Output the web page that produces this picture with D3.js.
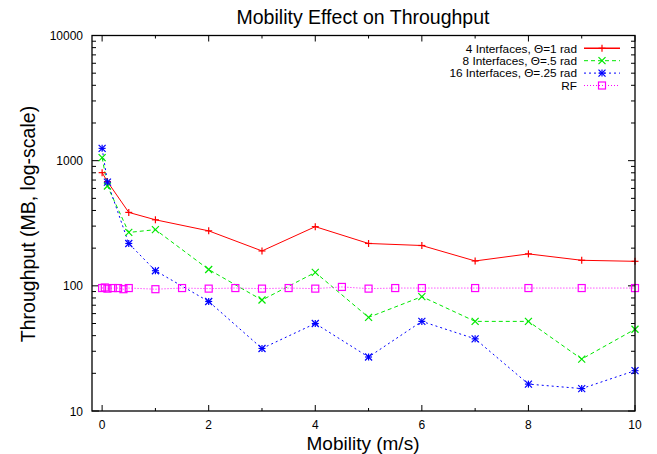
<!DOCTYPE html>
<html><head><meta charset="utf-8">
<script src="https://cdn.jsdelivr.net/npm/d3@7"></script>
<style>body{margin:0;background:#fff;}svg{display:block;font-family:"Liberation Sans",Arial,sans-serif;}</style>
</head><body><svg id="c" width="657" height="454"></svg>
<script>
const title = "Mobility Effect on Throughput";
const xLabel = "Mobility (m/s)";
const yLabel = "Throughput (MB, log-scale)";
const xTicks = [0, 2, 4, 6, 8, 10];
const yTicks = [10, 100, 1000, 10000];

const xs4 = [0, 0.1, 0.5, 1, 2, 3, 4, 5, 6, 7, 8, 9, 10];
const ys4 = [802, 680, 386, 337, 275, 190, 297, 218, 210, 158, 180, 160, 157];
const xs8 = [0, 0.1, 0.5, 1, 2, 3, 4, 5, 6, 7, 8, 9, 10];
const ys8 = [1057, 627, 267, 281, 135, 77, 128, 56, 82, 52, 52, 26, 45];
const xs16 = [0, 0.1, 0.5, 1, 2, 3, 4, 5, 6, 7, 8, 9, 10];
const ys16 = [1254, 674, 218, 132, 75, 31.6, 50, 27, 52, 37.7, 16.4, 15.1, 21];
const xsRF = [0, 0.05, 0.1, 0.2, 0.3, 0.4, 0.5, 1, 1.5, 2, 2.5, 3, 3.5, 4, 4.5, 5, 5.5, 6, 7, 8, 9, 10];
const ysRF = [96, 97, 95, 96, 96, 94, 96, 94, 96, 95, 96, 95, 96, 95, 98, 95, 96, 96, 96, 96, 96, 96];

const seriesNames = ["4 Interfaces, \u0398=1 rad", "8 Interfaces, \u0398=.5 rad", "16 Interfaces, \u0398=.25 rad", "RF"];
const seriesColors = ["#ff0000", "#00e800", "#0000ff", "#ff00ff"];
const seriesDash = [null, "4,3", "2,3", "1,2"];
const seriesMarker = ["plus", "cross", "star", "square"];

const series = [
  {xs: xs4, ys: ys4}, {xs: xs8, ys: ys8}, {xs: xs16, ys: ys16}, {xs: xsRF, ys: ysRF}
].map((s, i) => ({name: seriesNames[i], color: seriesColors[i], dash: seriesDash[i], marker: seriesMarker[i],
  pts: s.xs.map((x, j) => [x, s.ys[j]])}));

const svg = d3.select("#c");
const L = 92, R = 635, T = 35.5, B = 411;
const x = d3.scaleLinear().domain([-0.19, 10]).range([L, R]);
const y = d3.scaleLog().domain([10, 10000]).range([B, T]);

const yMinor = [];
for (let d = 10; d < 10000; d *= 10) for (let k = 2; k <= 9; k++) yMinor.push(d * k);
const xMinor = d3.range(0, 11, 1).filter(v => v % 2 !== 0);

const axes = svg.append("g").attr("stroke", "#000").attr("stroke-width", 1);
yTicks.forEach(v => {
  axes.append("line").attr("x1", L).attr("x2", L + 7).attr("y1", y(v)).attr("y2", y(v));
  axes.append("line").attr("x1", R).attr("x2", R - 7).attr("y1", y(v)).attr("y2", y(v));
});
yMinor.forEach(v => {
  axes.append("line").attr("x1", L).attr("x2", L + 4).attr("y1", y(v)).attr("y2", y(v));
  axes.append("line").attr("x1", R).attr("x2", R - 4).attr("y1", y(v)).attr("y2", y(v));
});
xTicks.forEach(v => {
  axes.append("line").attr("x1", x(v)).attr("x2", x(v)).attr("y1", B).attr("y2", B - 6);
  axes.append("line").attr("x1", x(v)).attr("x2", x(v)).attr("y1", T).attr("y2", T + 6);
});
xMinor.forEach(v => {
  axes.append("line").attr("x1", x(v)).attr("x2", x(v)).attr("y1", B).attr("y2", B - 3);
  axes.append("line").attr("x1", x(v)).attr("x2", x(v)).attr("y1", T).attr("y2", T + 3);
});

svg.append("g").selectAll("text").data(yTicks).join("text")
  .attr("x", L - 9).attr("y", d => y(d) + 4.5).attr("text-anchor", "end")
  .attr("font-size", 12).text(d => d);
svg.append("g").selectAll("text").data(xTicks).join("text")
  .attr("x", d => x(d)).attr("y", B + 18).attr("text-anchor", "middle")
  .attr("font-size", 12).text(d => d);

const line = d3.line().x(d => x(d[0])).y(d => y(d[1]));
series.forEach(s => {
  svg.append("path").attr("d", line(s.pts)).attr("fill", "none")
    .attr("stroke", s.color).attr("stroke-width", 1)
    .attr("stroke-dasharray", s.dash);
});

function marker(g, type, cx, cy, color) {
  const r = 3.5;
  const m = g.append("g").attr("stroke", color).attr("stroke-width", 1.2).attr("fill", "none");
  if (type === "plus" || type === "star") {
    m.append("line").attr("x1", cx - r).attr("x2", cx + r).attr("y1", cy).attr("y2", cy);
    m.append("line").attr("x1", cx).attr("x2", cx).attr("y1", cy - r).attr("y2", cy + r);
  }
  if (type === "cross" || type === "star") {
    m.append("line").attr("x1", cx - r).attr("x2", cx + r).attr("y1", cy - r).attr("y2", cy + r);
    m.append("line").attr("x1", cx - r).attr("x2", cx + r).attr("y1", cy + r).attr("y2", cy - r);
  }
  if (type === "square") {
    m.append("rect").attr("x", cx - r).attr("y", cy - r).attr("width", 2 * r).attr("height", 2 * r);
  }
}
series.forEach(s => {
  const g = svg.append("g");
  s.pts.forEach(p => marker(g, s.marker, x(p[0]), y(p[1]), s.color));
});

svg.append("rect").attr("x", L).attr("y", T).attr("width", R - L).attr("height", B - T)
  .attr("fill", "none").attr("stroke", "#000").attr("stroke-width", 1.3);

const lg = svg.append("g");
series.forEach((s, i) => {
  const yy = 48.3 + i * 12.4;
  lg.append("text").attr("x", 577).attr("y", yy + 4.2).attr("text-anchor", "end")
    .attr("font-size", 11.8).text(s.name);
  lg.append("line").attr("x1", 584).attr("x2", 620).attr("y1", yy).attr("y2", yy)
    .attr("stroke", s.color).attr("stroke-width", i === 0 ? 1.5 : 1).attr("stroke-dasharray", s.dash);
  marker(lg, s.marker, 602, yy, s.color);
});

svg.append("text").attr("x", 363).attr("y", 24).attr("text-anchor", "middle")
  .attr("font-size", 19.5).text(title);
svg.append("text").attr("x", 363).attr("y", 450).attr("text-anchor", "middle")
  .attr("font-size", 19).text(xLabel);
svg.append("text").attr("transform", "translate(35,224) rotate(-90)").attr("text-anchor", "middle")
  .attr("font-size", 19.5).text(yLabel);
</script></body></html>
